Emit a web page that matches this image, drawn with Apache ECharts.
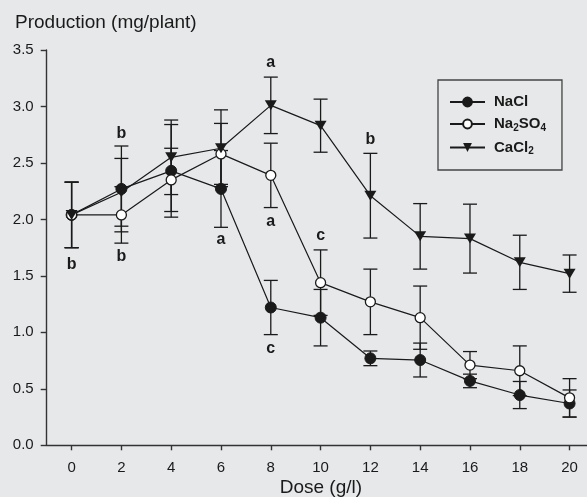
<!DOCTYPE html>
<html>
<head>
<meta charset="utf-8">
<script src="https://cdn.jsdelivr.net/npm/echarts@6/dist/echarts.min.js"></script>
<style>
  html, body { margin: 0; padding: 0; background: #e7e8ea; }
  #chart { width: 587px; height: 497px; }
</style>
</head>
<body>
<div id="chart"></div>
<script>
// dose levels (g/l)
const doses = [0, 2, 4, 6, 8, 10, 12, 14, 16, 18, 20]
const doseTicks = [0, 2, 4, 6, 8, 10, 12, 14, 16, 18, 20]

// production means and error bars (mg/plant)
const naclMean = [2.04, 2.27, 2.43, 2.27, 1.22, 1.13, 0.77, 0.755, 0.57, 0.445, 0.37]
const naclErr = [0.29, 0.38, 0.41, 0.34, 0.24, 0.25, 0.065, 0.15, 0.06, 0.12, 0.12]
const na2so4Mean = [2.04, 2.04, 2.35, 2.58, 2.39, 1.44, 1.27, 1.13, 0.71, 0.66, 0.42]
const na2so4Err = [0.29, 0.25, 0.28, 0.27, 0.285, 0.29, 0.29, 0.28, 0.12, 0.22, 0.17]
const cacl2Mean = [2.04, 2.24, 2.55, 2.63, 3.01, 2.83, 2.21, 1.85, 1.83, 1.62, 1.52]
const cacl2Err = [0.29, 0.30, 0.33, 0.34, 0.25, 0.235, 0.375, 0.29, 0.305, 0.24, 0.165]

// significance letters: dose, position, letter
const letterDose = [0, 2, 2, 6, 8, 8, 8, 10, 12]
const letterPos = [1.60, 2.76, 1.67, 1.82, 3.39, 1.98, 0.86, 1.86, 2.71]
const letterText = ['b', 'b', 'b', 'a', 'a', 'a', 'c', 'c', 'b']

const seriesNames = ['NaCl', 'Na2SO4', 'CaCl2']
const legendLabels = { NaCl: 'NaCl', Na2SO4: 'Na{s|2}SO{s|4}', CaCl2: 'CaCl{s|2}' }

const font = "'Liberation Sans', Arial, sans-serif"
const ink = '#1a1a1a'

const pairs = (ys) => doses.map((d, i) => [d, ys[i]])
const errData = (ys, es) => doses.map((d, i) => [d, ys[i] - es[i], ys[i] + es[i]])

// error bar drawn as a vertical line with two caps
const renderErr = (params, api) => {
  const x = api.value(0)
  const top = api.coord([x, api.value(2)])
  const bot = api.coord([x, api.value(1)])
  const w = 7
  const st = { stroke: ink, lineWidth: 1.3 }
  return {
    type: 'group',
    children: [
      { type: 'line', shape: { x1: top[0], y1: top[1], x2: bot[0], y2: bot[1] }, style: st },
      { type: 'line', shape: { x1: top[0] - w, y1: top[1], x2: top[0] + w, y2: top[1] }, style: st },
      { type: 'line', shape: { x1: bot[0] - w, y1: bot[1], x2: bot[0] + w, y2: bot[1] }, style: st },
    ],
  }
}

// significance letter drawn as text at a data position
const renderLetter = (params, api) => {
  const p = api.coord([api.value(0), api.value(1)])
  return {
    type: 'text',
    x: p[0],
    y: p[1],
    style: {
      text: letterText[params.dataIndex],
      fill: ink,
      font: `bold 16px ${font}`,
      align: 'center',
      verticalAlign: 'middle',
    },
  }
}

const errSeries = (ys, es) => ({
  type: 'custom',
  renderItem: renderErr,
  data: errData(ys, es),
  encode: { x: 0, y: [1, 2] },
  z: 1,
  silent: true,
})

const option = {
  backgroundColor: '#e7e8ea',
  animation: false,
  textStyle: { fontFamily: font },
  title: {
    text: 'Production (mg/plant)',
    left: 10,
    top: 8,
    textStyle: { fontSize: 19, fontWeight: 'normal', color: ink, fontFamily: font },
  },
  legend: {
    data: seriesNames,
    orient: 'vertical',
    left: 438,
    top: 80,
    padding: [14.5, 16, 13.5, 11],
    borderColor: '#444',
    borderWidth: 1.3,
    itemWidth: 35,
    itemHeight: 11,
    itemGap: 7,
    formatter: (name) => legendLabels[name],
    textStyle: {
      fontSize: 15,
      fontWeight: 'bold',
      color: ink,
      fontFamily: font,
      padding: [0, 0, 0, 4],
      rich: {
        s: { fontSize: 10, fontWeight: 'bold', color: ink, fontFamily: font, verticalAlign: 'bottom', padding: [8, 0, 0, 0] },
      },
    },
  },
  grid: { left: 46.7, right: 0, top: 50, bottom: 51.7, outerBoundsMode: 'none', containLabel: false },
  xAxis: {
    type: 'value',
    min: -1,
    max: 20.7,
    name: 'Dose (g/l)',
    nameLocation: 'middle',
    nameGap: 33,
    nameMoveOverlap: false,
    nameTextStyle: { fontSize: 19, color: ink, fontFamily: font, padding: [0, 0, 0, 8] },
    axisLine: { show: true, onZero: false, lineStyle: { color: '#333', width: 1.4 } },
    axisTick: { show: true, length: 5, customValues: doseTicks, lineStyle: { color: '#333', width: 1.4 } },
    axisLabel: { customValues: doseTicks, fontSize: 15, color: ink, margin: 15, fontFamily: font },
    splitLine: { show: false },
  },
  yAxis: {
    type: 'value',
    min: 0,
    max: 3.5,
    interval: 0.5,
    axisLine: { show: true, onZero: false, lineStyle: { color: '#333', width: 1.4 } },
    axisTick: { show: true, length: 6, lineStyle: { color: '#333', width: 1.4 } },
    axisLabel: { fontSize: 15, color: ink, margin: 13, fontFamily: font, formatter: (v) => v.toFixed(1) },
    splitLine: { show: false },
  },
  series: [
    errSeries(naclMean, naclErr),
    errSeries(na2so4Mean, na2so4Err),
    errSeries(cacl2Mean, cacl2Err),
    {
      name: 'NaCl',
      type: 'line',
      data: pairs(naclMean),
      symbol: 'circle',
      symbolSize: 11,
      lineStyle: { color: ink, width: 1.2 },
      itemStyle: { color: ink, borderColor: ink, borderWidth: 1 },
      z: 3,
    },
    {
      name: 'Na2SO4',
      type: 'line',
      data: pairs(na2so4Mean),
      symbol: 'circle',
      symbolSize: 10,
      lineStyle: { color: ink, width: 1.2 },
      itemStyle: { color: '#ffffff', borderColor: ink, borderWidth: 1.3 },
      z: 3,
    },
    {
      name: 'CaCl2',
      type: 'line',
      data: pairs(cacl2Mean),
      symbol: 'triangle',
      symbolRotate: 180,
      symbolSize: [12, 10],
      lineStyle: { color: ink, width: 1.2 },
      itemStyle: { color: ink },
      z: 3,
    },
    {
      type: 'custom',
      renderItem: renderLetter,
      data: letterDose.map((d, i) => [d, letterPos[i]]),
      encode: { x: 0, y: 1 },
      silent: true,
      z: 4,
    },
  ],
}

const chart = echarts.init(document.getElementById('chart'))
chart.setOption(option)
</script>
</body>
</html>
